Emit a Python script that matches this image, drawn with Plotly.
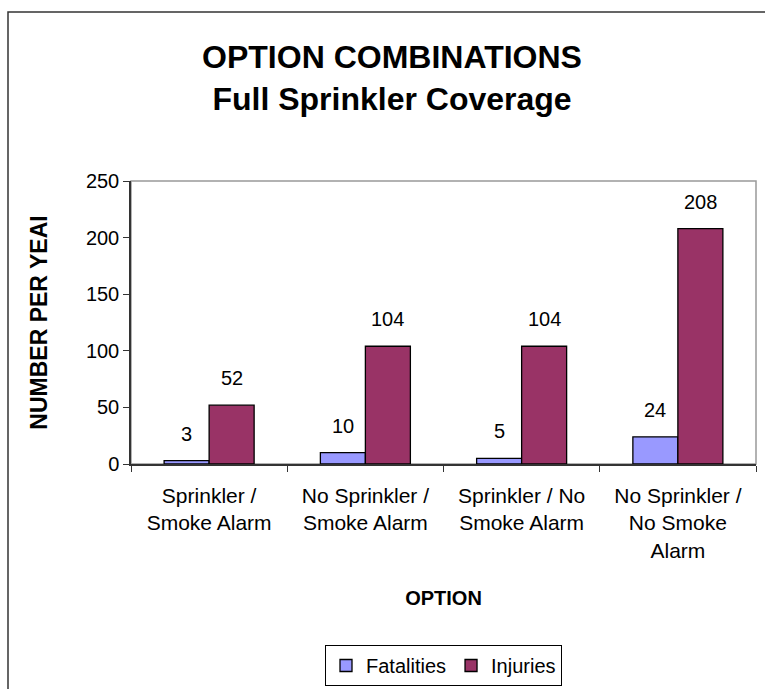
import plotly.graph_objects as go

# Chart data
categories = [
    "Sprinkler /<br>Smoke Alarm",
    "No Sprinkler /<br>Smoke Alarm",
    "Sprinkler / No<br>Smoke Alarm",
    "No Sprinkler /<br>No Smoke<br>Alarm",
]
fatalities = [3, 10, 5, 24]
injuries = [52, 104, 104, 208]
series_names = ["Fatalities", "Injuries"]
y_ticks = [0, 50, 100, 150, 200, 250]

# Layout geometry (pixels)
W, H = 765, 689
M_L, M_R, M_T, M_B = 131, 9, 181, 225
plot_w = W - M_L - M_R
plot_h = H - M_T - M_B
BARGAP = 0.424
cat_w = plot_w / len(categories)
bar_w = cat_w * (1 - BARGAP) / 2

FONT = "Liberation Sans, Arial, sans-serif"
FAT_COLOR = "#9999FF"
INJ_COLOR = "#993366"

fig = go.Figure()
fig.add_trace(go.Bar(
    name=series_names[0], x=categories, y=fatalities,
    marker=dict(color=FAT_COLOR, line=dict(color="black", width=1.3)),
))
fig.add_trace(go.Bar(
    name=series_names[1], x=categories, y=injuries,
    marker=dict(color=INJ_COLOR, line=dict(color="black", width=1.3)),
))

# Value labels floating above each bar
for vals, sign in ((fatalities, -1), (injuries, 1)):
    for cat, v in zip(categories, vals):
        fig.add_annotation(
            x=cat, y=v, xref="x", yref="y", text=str(v),
            showarrow=False, xshift=sign * bar_w / 2, yshift=27,
            yanchor="middle", font=dict(family=FONT, size=20, color="black"),
        )

# Outer chart border (runs off the right and bottom edges)
x_left = (8 - M_L) / plot_w
y_top = (H - M_B - 12) / plot_h
fig.add_shape(type="rect", xref="paper", yref="paper",
              x0=x_left, x1=1.2, y0=-1.2, y1=y_top,
              line=dict(color="#333333", width=1.5), layer="below")
# Plot-area frame
fig.add_shape(type="rect", xref="paper", yref="paper",
              x0=0, x1=1, y0=0, y1=1,
              line=dict(color="#999999", width=1.5), layer="below")

fig.update_layout(
    width=W, height=H,
    margin=dict(l=M_L, r=M_R, t=M_T, b=M_B, autoexpand=False),
    paper_bgcolor="white", plot_bgcolor="white",
    barmode="group", bargap=BARGAP, bargroupgap=0,
    font=dict(family=FONT, size=20, color="black"),
    title=dict(
        text="<b>OPTION COMBINATIONS<br>Full Sprinkler Coverage</b>",
        x=392 / W, xanchor="center", xref="container",
        y=1 - 68 / H, yanchor="middle", yref="container",
        font=dict(family=FONT, size=32, color="black"),
    ),
    showlegend=True,
    legend=dict(
        orientation="h", x=0.5, xanchor="center",
        y=(H - M_B - 645) / plot_h, yanchor="top",
        bordercolor="black", borderwidth=1,
        font=dict(family=FONT, size=20, color="black"),
        itemwidth=30, traceorder="normal",
    ),
    xaxis=dict(
        showline=True, linecolor="#333333", linewidth=1.5,
        ticks="outside", tickson="boundaries", ticklen=6,
        tickcolor="#333333", showgrid=False,
        ticklabelstandoff=12,
        tickfont=dict(family=FONT, size=21, color="black"),
        title=dict(text="<b>OPTION</b>", standoff=30,
                   font=dict(family=FONT, size=20, color="black")),
    ),
    yaxis=dict(
        range=[0, 250], tickvals=y_ticks,
        showline=True, linecolor="#333333", linewidth=1.5,
        ticks="outside", ticklen=6, tickcolor="#333333",
        showgrid=False, zeroline=False,
        tickfont=dict(family=FONT, size=20, color="black"),
        title=dict(text="<b>NUMBER PER YEAI</b>", standoff=32,
                   font=dict(family=FONT, size=23, color="black")),
    ),
)

fig.write_html("out.html")
